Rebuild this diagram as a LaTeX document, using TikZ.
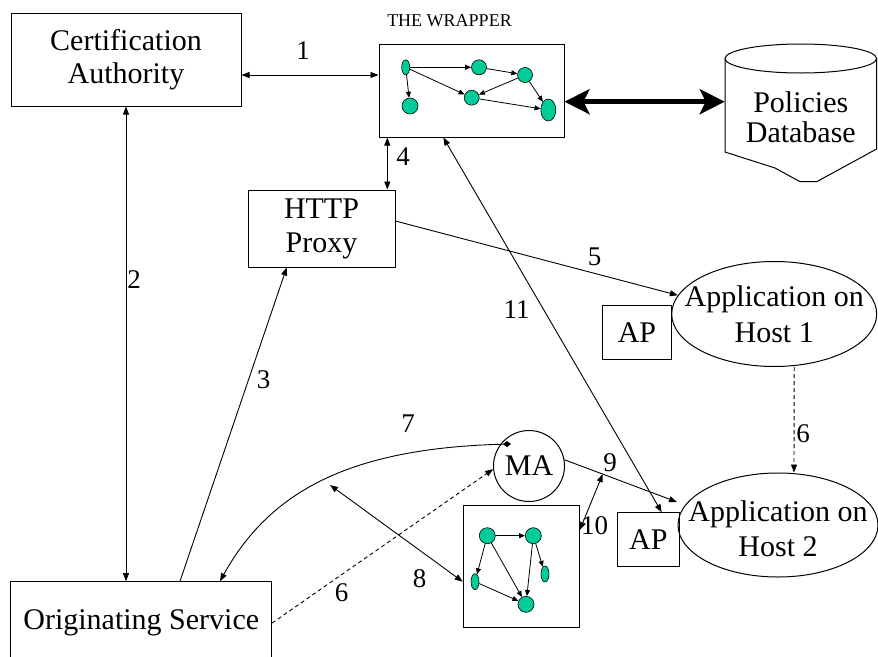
\documentclass[tikz,border=0pt]{standalone}
\usepackage{fontspec}
\setmainfont{Liberation Serif}
\usetikzlibrary{arrows.meta,shapes.geometric,calc}
\definecolor{nodegreen}{RGB}{0,204,153}
\begin{document}
\begin{tikzpicture}[x=1pt,y=-1pt,
  >={Triangle[length=8pt,width=6pt]},
  box/.style={draw, line width=1pt, inner sep=0pt, align=center,
              font=\fontsize{30}{33}\selectfont},
  lbl/.style={inner sep=0pt, font=\fontsize{27}{30}\selectfont},
  conn/.style={line width=0.9pt, ->},
  dconn/.style={line width=0.9pt, <->},
  dashconn/.style={line width=0.9pt, ->, dash pattern=on 4pt off 3pt},
  gcirc/.style={circle, draw, line width=0.6pt, fill=nodegreen, inner sep=0pt},
  gell/.style={ellipse, draw, line width=0.6pt, fill=nodegreen, inner sep=0pt},
  garrow/.style={line width=0.8pt, -{Triangle[length=6pt,width=5pt]}},
  host/.style={ellipse, draw, line width=1pt, inner sep=0pt},
  bigarrow/.style={line width=5pt,
     {Stealth[length=25pt,width=25pt,inset=6pt]}-{Stealth[length=25pt,width=25pt,inset=6pt]}}
]
\useasboundingbox (0,0) rectangle (878,656);

% ---------- main boxes ----------
\node[box, minimum width=230pt, minimum height=93pt] (ca) at (126,59.5) {Certification\\Authority};
\node[box, minimum width=185pt, minimum height=93pt] (wrap) at (471.5,90.5) {};
\node[inner sep=0pt, font=\fontsize{18}{20}\selectfont] (wraptitle) at (449.5,21) {THE WRAPPER};
\node[box, minimum width=147pt, minimum height=77pt, font=\fontsize{30}{34}\selectfont] (proxy) at (321.5,228.5) {HTTP\\Proxy};
\node[box, minimum width=260.7pt, minimum height=82.6pt] (os) at (141.3,623) {Originating Service};
\node[box, minimum width=69.4pt, minimum height=53.3pt] (ap1) at (637,332.4) {AP};
\node[box, minimum width=62pt, minimum height=53.3pt] (ap2) at (648.3,539.4) {AP};
\node[circle, draw, line width=1pt, inner sep=0pt, minimum size=71pt,
      font=\fontsize{30}{33}\selectfont] (ma) at (529,466) {MA};
\node[box, minimum width=116pt, minimum height=122.3pt] (lower) at (521.3,566.2) {};

% ---------- application hosts ----------
\node[host, minimum width=205pt, minimum height=105pt,
      label={[align=center, font=\fontsize{30}{36}\selectfont]center:Application on\\Host 1}] (h1) at (774.2,314) {};
\node[host, minimum width=200pt, minimum height=104pt,
      label={[align=center, yshift=-4pt, font=\fontsize{30}{35}\selectfont]center:Application on\\Host 2}] (h2) at (778,525) {};

% ---------- policies database (cylinder) ----------
\draw[line width=1pt] (800.8,58.5) ellipse [x radius=75.8, y radius=14.5];
\draw[line width=1pt] (725,58.5) -- (725,152) -- (775,168) -- (800,181.7)
   -- (816.7,181.7) -- (876.6,149) -- (876.6,58.5);
\node[inner sep=0pt, minimum width=151.7pt, align=center,
      font=\fontsize{30}{30}\selectfont] (db) at (800.8,117.5) {Policies\\Database};

% ---------- graph inside the wrapper ----------
\node[gell, minimum width=8pt, minimum height=15pt] (n1) at (405.7,67.3) {};
\node[gcirc, minimum size=15pt] (n2) at (479,67.3) {};
\node[gcirc, minimum size=15pt] (n3) at (525,75) {};
\node[gcirc, minimum size=16pt] (n4) at (410,106) {};
\node[gcirc, minimum size=15pt] (n5) at (471.7,97.7) {};
\node[gell, minimum width=15pt, minimum height=22pt] (n6) at (548.3,110) {};
\draw[garrow] (n1) -- (n2);
\draw[garrow] (n1) -- (n4);
\draw[garrow] (n1) -- (n5);
\draw[garrow] (n2) -- (n3);
\draw[garrow] (n3) -- (n5);
\draw[garrow] (n3) -- (n6);
\draw[garrow] (n5) -- (n6);

% ---------- graph inside the lower box ----------
\node[gcirc, minimum size=16pt] (m1) at (487.3,535.7) {};
\node[gcirc, minimum size=16pt] (m2) at (533.3,535.7) {};
\node[gell, minimum width=8pt, minimum height=16pt] (m3) at (475,581.7) {};
\node[gell, minimum width=8pt, minimum height=16pt] (m4) at (545,574) {};
\node[gcirc, minimum size=16pt] (m5) at (526,604.3) {};
\draw[garrow] (m1) -- (m2);
\draw[garrow] (m1) -- (m3);
\draw[garrow] (m1) -- (m5);
\draw[garrow] (m2) -- (m5);
\draw[garrow] (m2) -- (m4);
\draw[garrow] (m3) -- (m5);

% ---------- connectors ----------
\draw[dconn] ([yshift=-15.5pt]ca.east) -- ([yshift=15.5pt]wrap.west);
\draw[dconn] (ca.south) -- (ca.south |- os.north);
\draw[conn] ([xshift=38.7pt]os.north) -- ([xshift=-34.8pt]proxy.south);
\draw[dconn] ([xshift=-84.2pt]wrap.south) -- ([xshift=65.8pt]proxy.north);
\draw[conn] ([yshift=7.5pt]proxy.east) -- (h1.169);
\draw[dashconn] ([xshift=20pt]h1.south) -- ([xshift=16pt]h2.north);
\draw[dconn] ([xshift=-28.2pt]wrap.south) -- ([xshift=13.4pt]ap2.north);
\draw[bigarrow] ([yshift=-11.2pt]wrap.east) -- ([yshift=15.8pt]db.west);

\coordinate (h2in) at (677,502);
\draw[conn] (ma.10) -- (h2in);
\coordinate (tentop) at ($(ma.10)!0.34!(h2in)$);
\draw[dconn] ([yshift=36.2pt]lower.east) -- (tentop);

\coordinate (matail) at ($(ma.center)+(-18,-22)$);
\draw[line width=0.9pt, {Diamond[length=8pt,width=6pt]}->]
  (matail) .. controls +(-161,4) and +(50,-90) .. ([xshift=78.7pt]os.north);

\coordinate (p8) at (330,485);
\draw[dconn] (p8) -- ([yshift=-15.5pt]lower.west);
\draw[dashconn] (os.east) -- (ma.185);

% ---------- step labels ----------
\node[lbl] (l1) at (303,51) {1};
\node[lbl] (l2) at (134,280) {2};
\node[lbl] (l3) at (263.5,380) {3};
\node[lbl] (l4) at (403,157) {4};
\node[lbl] (l5) at (594.5,257) {5};
\node[lbl] (l6a) at (803,434) {6};
\node[lbl] (l6b) at (341.5,593) {6};
\node[lbl] (l7) at (408,424) {7};
\node[lbl] (l8) at (419.5,579) {8};
\node[lbl] (l9) at (610,463) {9};
\node[lbl] (l10) at (594.5,526) {10};
\node[lbl] (l11) at (516.7,310) {11};
\end{tikzpicture}
\end{document}
